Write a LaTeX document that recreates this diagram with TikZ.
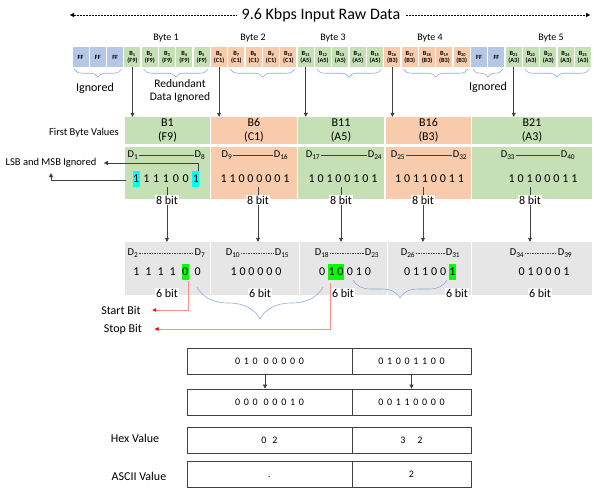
\documentclass[tikz,border=0pt]{standalone}
\usepackage{fontspec}
\setmainfont{Carlito}
\newfontfamily\bitfont[LetterSpace=24]{Carlito}
\newfontfamily\widebit[LetterSpace=31]{Carlito}
\newfontfamily\widerbit[LetterSpace=50]{Carlito}
\newfontfamily\tabfont[LetterSpace=37]{Carlito}
\usetikzlibrary{arrows.meta,positioning,calc,decorations.pathreplacing}

\definecolor{grn}{HTML}{C5E0B4}
\definecolor{org}{HTML}{F8CBAD}
\definecolor{ffb}{HTML}{B4C7E7}
\definecolor{gry}{HTML}{E7E6E6}
\definecolor{brc}{HTML}{8FAADC}
\definecolor{ln}{HTML}{404040}
\definecolor{hlg}{HTML}{00FF00}
\definecolor{hlc}{HTML}{00FFFF}
\definecolor{redl}{HTML}{FF8C8C}

% highlighted bit(s); letter space put back on both sides
\newcommand\hl[3][.24em]{\kern#1{\setlength\fboxsep{0.4pt}\colorbox{#2}{\strut#3}}\kern#1}

\begin{document}
\begin{tikzpicture}[
  x=1pt, y=-1pt,
  >={Triangle[length=4pt,width=4pt]},
  arr/.style={draw=ln, line width=0.6pt, ->},
  cellbox/.style={minimum width=16pt, minimum height=20pt, inner sep=0pt,
                  align=center, font=\bfseries\fontsize{6.3}{7}\selectfont},
  ffbox/.style={cellbox, fill=ffb},
  bytel/.style={font=\fontsize{10}{12}\selectfont},
  lbl/.style={font=\fontsize{10.5}{12}\selectfont},
  biglbl/.style={font=\fontsize{12}{14}\selectfont},
  valtop/.style={minimum height=27pt, inner sep=0pt, align=center,
                 font=\fontsize{12}{14}\selectfont},
  valbot/.style={minimum height=52pt, inner sep=0pt},
  sixbox/.style={fill=gry, minimum height=53pt, inner sep=0pt},
  dl/.style={font=\fontsize{10.5}{12}\selectfont, inner sep=0.5pt},
  bits/.style={inner sep=0pt, font=\bitfont\fontsize{12}{15}\selectfont},
  nbit/.style={fill=white, inner sep=1pt, font=\fontsize{12}{13}\selectfont},
  brace/.style={draw=brc, line width=0.6pt, decorate},
  redarr/.style={draw=redl, line width=0.6pt,
                 -{Triangle[length=4pt,width=3.5pt,color=red]}},
  tabcell/.style={draw=ln, line width=0.7pt, minimum height=26pt, inner sep=0pt,
                  font=\tabfont\fontsize{10}{12}\selectfont}
]
\useasboundingbox (0,0) rectangle (594,490);

% Title
\node[font=\fontsize{16}{19}\selectfont] (title) at (321,15) {9.6 Kbps Input Raw Data};
\coordinate (tl) at (70,15);
\coordinate (tr) at (590,15);
\draw[dash pattern=on 0.6pt off 0.9pt, ->] ([xshift=-2pt]title.west) -- (tl);
\draw[dash pattern=on 0.6pt off 0.9pt, ->] ([xshift=2pt]title.east) -- (tr);

% Raw byte stream
\foreach \i in {0,1,2,23,24}
  \node[ffbox] (c\i) at (80.5+17.33*\i,57) {FF};
\foreach \i/\n/\v/\c in {3/1/F9/grn,4/2/F9/grn,5/3/F9/grn,6/4/F9/grn,7/5/F9/grn,
    8/6/C1/org,9/7/C1/org,10/8/C1/org,11/9/C1/org,12/10/C1/org,
    13/11/A5/grn,14/12/A5/grn,15/13/A5/grn,16/14/A5/grn,17/15/A5/grn,
    18/16/B3/org,19/17/B3/org,20/18/B3/org,21/19/B3/org,22/20/B3/org,
    25/21/A3/grn,26/22/A3/grn,27/23/A3/grn,28/24/A3/grn,29/25/A3/grn}
  \node[cellbox, fill=\c] (c\i) at (80.5+17.33*\i,57) {B\textsubscript{\n}\\(\v)};

\node[bytel] (byte1) at (166,38) {Byte 1};
\node[bytel] (byte2) at (253,38) {Byte 2};
\node[bytel] (byte3) at (333,38) {Byte 3};
\node[bytel] (byte4) at (430,38) {Byte 4};
\node[bytel] (byte5) at (551,38) {Byte 5};

\foreach \a/\b in {0/2,4/7,9/12,14/17,19/22,23/24,26/29}
  \draw[brace, decoration={brace, mirror, amplitude=8pt}]
    ([xshift=2pt,yshift=-2pt]c\a.south west) -- ([xshift=-2pt,yshift=-2pt]c\b.south east);

\node[biglbl] (ign1) at (95,88) {Ignored};
\node[lbl, font=\fontsize{11.5}{13.5}\selectfont, align=center] (redun) at (180,91)
  {Redundant\\Data Ignored};
\node[biglbl] (ign2) at (488,87) {Ignored};

% First byte values
\node[lbl] (fbv) at (84,133) {First Byte Values};
\foreach \k/\n/\v/\c/\x/\w in {3/1/F9/grn/167.5/85, 8/6/C1/org/254/86,
    13/11/A5/grn/341/86, 18/16/B3/org/428.5/85, 25/21/A3/grn/532/120} {
  \node[valtop, fill=\c, minimum width=\w pt] (v\n) at (\x,130.5) {B\n\\(\v)};
  \node[valbot, fill=\c, minimum width=\w pt] (w\n) at (\x,173) {};
  \draw[arr] (c\k.south) -- (c\k.south |- v\n.north);
}

% D index ranges of 8 bits
\foreach \a/\xa/\b/\xb in {1/133/8/200, 9/227/16/281, 17/313/24/375,
    25/398/32/460, 33/508/40/568} {
  \node[dl] (d\a) at (\xa,155) {D\textsubscript{\a}};
  \node[dl] (d\b) at (\xb,155) {D\textsubscript{\b}};
  \draw[ln, line width=0.6pt] (d\a.east) -- (d\b.west);
}

\node[bits, font=\widebit\fontsize{12}{15}\selectfont] (k1) at (166,179)
  {\kern-.31em\hl[.31em]{hlc}{1}11100\hl[.31em]{hlc}{1}\kern-.31em};
\node[bits] (k6) at (255,179) {11000001};
\node[bits] (k11) at (343,179) {10100101};
\node[bits] (k16) at (429.5,179) {10110011};
\node[bits] (k21) at (543,179) {10100011};

% LSB / MSB
\node[lbl] (lsbl) at (51,163) {LSB and MSB Ignored};
\coordinate (lsb) at (126,180);
\coordinate (msb) at (198,171);
\draw[arr] (lsb) -| ([yshift=-2pt]lsbl.south);
\draw[arr] (msb) |- ([xshift=4pt]lsbl.east);

% 8 bit -> 6 bit
\foreach \n/\x/\gx/\gw in {1/167/167.5/85, 6/258/255/88, 11/341/343.5/87,
    16/423/429.5/83, 21/530/532/120} {
  \node[sixbox, minimum width=\gw pt] (g\n) at (\gx,268.5) {};
  \node[nbit] (e\n) at (\x,200) {8 bit};
  \draw[ln, line width=0.6pt] (e\n.north) -- ++(0,-8);
  \draw[arr] (e\n.south) -- (e\n.south |- g\n.north);
}

% D index ranges of 6 bits
\foreach \a/\xa/\b/\xb in {2/133/7/200, 10/233/15/282, 18/322/23/372,
    26/408/31/453, 34/517/39/565} {
  \node[dl] (d\a) at (\xa,253) {D\textsubscript{\a}};
  \node[dl] (d\b) at (\xb,253) {D\textsubscript{\b}};
  \draw[ln, line width=0.5pt, dash pattern=on 1.5pt off 1pt] (d\a.east) -- (d\b.west);
}

\node[bits, font=\widerbit\fontsize{12}{15}\selectfont] (h1) at (167,272)
  {1111\hl[.5em]{hlg}{0}0};
\node[bits] (h6) at (256,272) {100000};
\node[bits] (h11) at (345,272) {0\hl{hlg}{10}010};
\node[bits] (h16) at (430,272) {01100\hl{hlg}{1}\kern-.24em};
\node[bits] (h21) at (544,272) {010001};

\node[nbit] (s1) at (167,293) {6 bit};
\node[nbit] (s6) at (260,293) {6 bit};
\node[nbit] (s11) at (343,293) {6 bit};
\node[nbit] (s16) at (457,293) {6 bit};
\node[nbit] (s21) at (540,293) {6 bit};

\draw[brace, decoration={brace, mirror, amplitude=32pt}] (197,287) -- (323,287);
\draw[brace, decoration={brace, mirror, amplitude=18pt}] (353,280) -- (447,280);

% Start and stop bits
\node[biglbl] (start) at (121,310) {Start Bit};
\node[biglbl] (stop) at (123,329) {Stop Bit};
\coordinate (st) at (188,281);
\coordinate (sp) at (330,283);
\draw[redarr, shorten >=8pt] (st) |- (start.east);
\draw[redarr, shorten >=9pt] (sp) |- (stop.east);

% Regrouped bits and decoded values
\foreach \r/\y/\a/\b in {1/361/{010 00000}/01001100, 2/402/{000 00010}/00110000,
    3/440/{0 2}/{3\ \ 2}, 4/474/{\raisebox{-7pt}{.}}/2} {
  \node[tabcell, minimum width=165pt] (r\r l) at (269.5,\y) {\a};
  \node[tabcell, minimum width=119pt] (r\r r) at (411.5,\y) {\b};
}
\draw[arr] ([xshift=-4.5pt]r1l.south) -- ([xshift=-4.5pt]r2l.north);
\draw[arr] (r1r.south) -- (r2r.north);

\node[biglbl] (hexl) at (135,438) {Hex Value};
\node[biglbl] (asciil) at (139,476) {ASCII Value};

\end{tikzpicture}
\end{document}
